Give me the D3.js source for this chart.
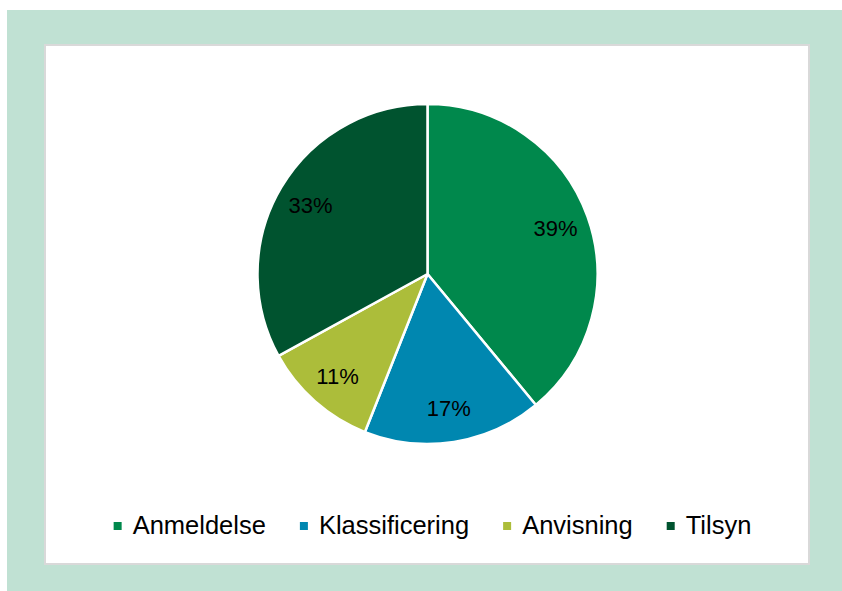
<!DOCTYPE html>
<html>
<head>
<meta charset="utf-8">
<script src="https://cdn.jsdelivr.net/npm/d3@7"></script>
<style>
  body { margin: 0; background: #fff; }
  svg { display: block; font-family: "Liberation Sans", Arial, sans-serif; }
</style>
</head>
<body>
<svg id="chart" width="842" height="591"></svg>
<script>
// data
const categories = ['Anmeldelse', 'Klassificering', 'Anvisning', 'Tilsyn'];
const values = [39, 17, 11, 33];
const colors = ['#00884c', '#0087b0', '#acbd3a', '#00532f'];

const svg = d3.select('#chart');

// outer frame and white plot card
svg.append('rect').attr('x', 7).attr('y', 10).attr('width', 835).attr('height', 581).attr('fill', '#c0e1d3');
svg.append('rect').attr('x', 45).attr('y', 45).attr('width', 764).attr('height', 519)
  .attr('fill', '#fff').attr('stroke', '#d9d9d9').attr('stroke-width', 2);

const cx = 427.5;
const cy = 274;
const radius = 170;

const pie = d3.pie().sort(null).value(function (d) { return d; });
const arcs = pie(values);
const arc = d3.arc().innerRadius(0).outerRadius(radius);
const labelArc = d3.arc().innerRadius(radius * 0.8).outerRadius(radius * 0.8);
const total = d3.sum(values);

const g = svg.append('g').attr('transform', 'translate(' + cx + ',' + cy + ')');

g.selectAll('path')
  .data(arcs)
  .enter().append('path')
  .attr('d', arc)
  .attr('fill', function (d, i) { return colors[i]; })
  .attr('stroke', '#fff')
  .attr('stroke-width', 2.5)
  .attr('stroke-linejoin', 'round');

g.selectAll('text.lbl')
  .data(arcs)
  .enter().append('text')
  .attr('class', 'lbl')
  .attr('transform', function (d) { return 'translate(' + labelArc.centroid(d) + ')'; })
  .attr('text-anchor', 'middle')
  .attr('dy', '0.36em')
  .attr('font-size', '22px')
  .attr('fill', '#000')
  .text(function (d) { return Math.round(d.value / total * 100) + '%'; });

// legend, centred under the pie
const gap = 34;
const legend = svg.append('g').attr('transform', 'translate(0,534)');
const items = legend.selectAll('g')
  .data(categories)
  .enter().append('g');
items.append('rect')
  .attr('x', 0).attr('y', -12).attr('width', 8).attr('height', 8)
  .attr('fill', function (d, i) { return colors[i]; });
items.append('text')
  .attr('x', 19)
  .attr('font-size', '25.5px')
  .attr('fill', '#000')
  .text(function (d) { return d; });

let x = 0;
const offsets = [];
items.each(function () {
  offsets.push(x);
  x += 19 + this.querySelector('text').getComputedTextLength() + gap;
});
const totalW = x - gap;
const startX = 432.5 - totalW / 2;
items.attr('transform', function (d, i) { return 'translate(' + (startX + offsets[i]) + ',0)'; });
</script>
</body>
</html>
